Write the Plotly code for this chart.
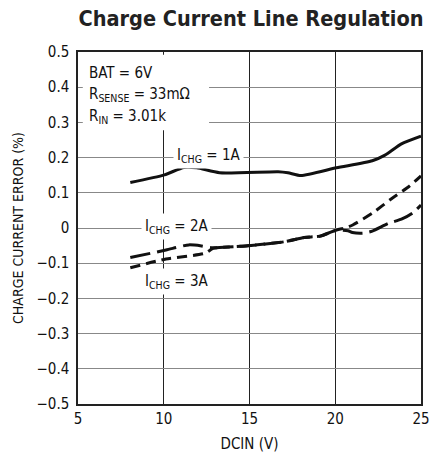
import plotly.graph_objects as go

# Data
x_1a = [8.05, 10.04, 11.17, 11.93, 13.26, 16.67, 17.24, 18.0, 20.07, 22.16, 22.9, 23.86, 25.0]
y_1a = [0.129, 0.151, 0.172, 0.171, 0.157, 0.160, 0.157, 0.149, 0.171, 0.191, 0.207, 0.239, 0.261]

x_2a = [8.05, 10.13, 11.46, 12.2, 12.78, 14.77, 17.05, 18.18, 19.13, 20.07, 20.74, 21.0, 21.6, 22.16, 23.1, 23.86, 24.5, 25.0]
y_2a = [-0.084, -0.0625, -0.048, -0.051, -0.056, -0.051, -0.039, -0.027, -0.023, -0.006, -0.008, -0.013, -0.015, -0.009, 0.013, 0.025, 0.042, 0.065]

x_3a = [8.05, 10.13, 12.4, 12.88, 14.77, 17.05, 18.18, 19.13, 20.07, 20.64, 21.02, 22.16, 23.3, 24.3, 25.0]
y_3a = [-0.113, -0.088, -0.072, -0.058, -0.051, -0.039, -0.027, -0.023, -0.006, 0.001, 0.0085, 0.042, 0.084, 0.118, 0.148]

x_ticks = [5, 10, 15, 20, 25]
y_ticks = [0.5, 0.4, 0.3, 0.2, 0.1, 0, -0.1, -0.2, -0.3, -0.4, -0.5]
y_tick_text = ["0.5", "0.4", "0.3", "0.2", "0.1", "0", "\u22120.1", "\u22120.2", "\u22120.3", "\u22120.4", "\u22120.5"]

FONT = "Liberation Sans Narrow, DejaVu Sans Condensed, Arial Narrow, sans-serif"

fig = go.Figure()
fig.add_trace(go.Scatter(x=x_1a, y=y_1a, mode="lines", line=dict(color="#111", width=3, shape="spline", smoothing=0.6)))
fig.add_trace(go.Scatter(x=x_2a, y=y_2a, mode="lines", line=dict(color="#111", width=3, dash="20px,7px", shape="spline", smoothing=0.6)))
fig.add_trace(go.Scatter(x=x_3a, y=y_3a, mode="lines", line=dict(color="#111", width=3, dash="10px,6px", shape="spline", smoothing=0.6)))

# white box behind conditions text
fig.add_shape(type="rect", xref="x", yref="y", x0=5.28, x1=12.64, y0=0.278, y1=0.492,
              fillcolor="white", line=dict(width=0), layer="between")

ann_font = dict(family=FONT, size=15, color="#111")
fig.add_annotation(x=5.5, y=0.44, xref="x", yref="y", text="BAT = 6V", showarrow=False, xanchor="left", font=ann_font)
fig.add_annotation(x=5.5, y=0.378, xref="x", yref="y", text="R<sub>SENSE</sub> = 33m\u03a9", showarrow=False, xanchor="left", font=ann_font)
fig.add_annotation(x=5.5, y=0.318, xref="x", yref="y", text="R<sub>IN</sub> = 3.01k", showarrow=False, xanchor="left", font=ann_font)
fig.add_annotation(x=12.6, y=0.207, xref="x", yref="y", text="I<sub>CHG</sub> = 1A", showarrow=False, font=ann_font,
                   bgcolor="white", borderpad=3)
fig.add_annotation(x=10.74, y=0.004, xref="x", yref="y", text="I<sub>CHG</sub> = 2A", showarrow=False, font=ann_font,
                   bgcolor="white", borderpad=3)
fig.add_annotation(x=10.74, y=-0.152, xref="x", yref="y", text="I<sub>CHG</sub> = 3A", showarrow=False, font=ann_font,
                   bgcolor="white", borderpad=3)

fig.update_layout(
    width=442, height=466,
    margin=dict(l=78, r=12, t=52, b=62),
    paper_bgcolor="white", plot_bgcolor="white",
    showlegend=False,
    title=dict(text="<b>Charge Current Line Regulation</b>", x=0.568, xanchor="center", y=0.96, yanchor="middle",
               font=dict(family=FONT, size=21.5, color="#222")),
    font=dict(family=FONT, size=15, color="#111"),
)
fig.update_xaxes(range=[5, 25], tickvals=x_ticks, showgrid=True, gridcolor="#222", gridwidth=1,
                 showline=True, linecolor="#222", linewidth=1.5, mirror=True, zeroline=False, ticks="",
                 tickfont=dict(family=FONT, size=15),
                 title=dict(text="DCIN (V)", font=dict(family=FONT, size=15), standoff=12))
fig.update_yaxes(range=[-0.5, 0.5], tickvals=y_ticks, ticktext=y_tick_text, showgrid=True, gridcolor="#888", gridwidth=1,
                 showline=True, linecolor="#222", linewidth=1.5, mirror=True, zeroline=False, ticks="",
                 tickfont=dict(family=FONT, size=15), ticklabelstandoff=4,
                 title=dict(text="CHARGE CURRENT ERROR (%)", font=dict(family=FONT, size=14), standoff=10))

# remove the browser's default body margin and scrollbars so the figure fills the window exactly
fig.write_html(
    "out.html",
    config={"displayModeBar": False},
    post_script="document.body.style.margin='0';document.body.style.overflow='hidden';"
                "document.documentElement.style.overflow='hidden';",
)
